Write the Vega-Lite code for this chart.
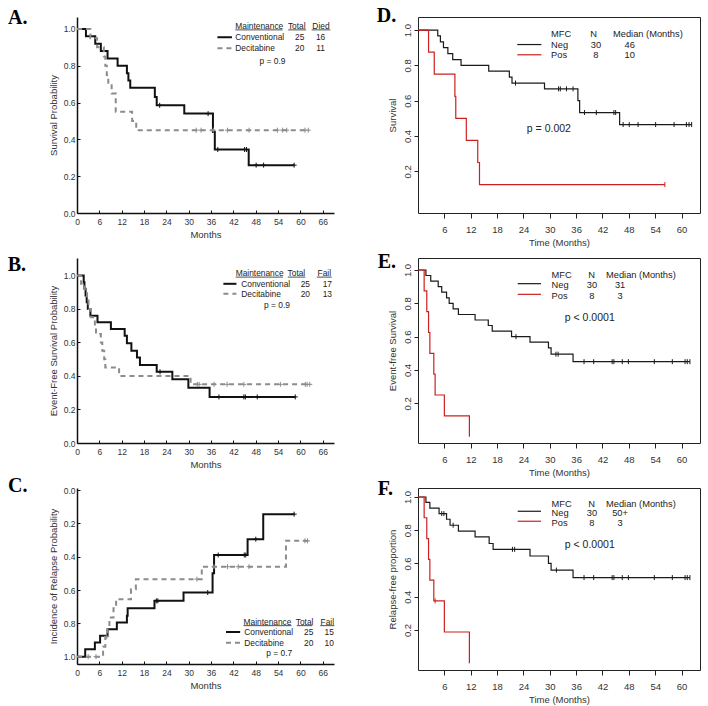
{
  "$schema": "https://vega.github.io/schema/vega-lite/v6.json",
  "background": "white",
  "padding": {"left": 7, "top": 5, "right": 5, "bottom": 5},
  "config": {
    "font": "Liberation Sans",
    "view": {"stroke": null},
    "axis": {"grid": false, "labelFont": "Liberation Sans", "titleFont": "Liberation Sans", "titleFontWeight": "normal", "labelFlush": false, "labelOverlap": false, "labelSeparation": 0},
    "text": {"font": "Liberation Sans", "color": "#222", "baseline": "middle"},
    "title": {"font": "Liberation Serif", "fontSize": 20, "fontWeight": "bold", "color": "black", "anchor": "start", "frame": "group", "baseline": "alphabetic"}
  },
  "datasets": {
    "A_line": [
      {"g":"Conventional","t":0,"s":1},{"g":"Conventional","t":2.4,"s":0.96},{"g":"Conventional","t":4.9,"s":0.92},{"g":"Conventional","t":6.4,"s":0.88},{"g":"Conventional","t":8.2,"s":0.84},{"g":"Conventional","t":10.9,"s":0.8},{"g":"Conventional","t":13.4,"s":0.76},{"g":"Conventional","t":13.8,"s":0.72},{"g":"Conventional","t":14.3,"s":0.68},{"g":"Conventional","t":20.9,"s":0.63},{"g":"Conventional","t":21.4,"s":0.585},{"g":"Conventional","t":28.8,"s":0.54},{"g":"Conventional","t":36.5,"s":0.44},{"g":"Conventional","t":37,"s":0.345},{"g":"Conventional","t":46.1,"s":0.26},{"g":"Conventional","t":58.3,"s":0.26},
      {"g":"Decitabine","t":0,"s":1},{"g":"Decitabine","t":3.6,"s":0.95},{"g":"Decitabine","t":5.4,"s":0.9},{"g":"Decitabine","t":7.2,"s":0.85},{"g":"Decitabine","t":7.6,"s":0.8},{"g":"Decitabine","t":8,"s":0.75},{"g":"Decitabine","t":8.4,"s":0.7},{"g":"Decitabine","t":9.3,"s":0.65},{"g":"Decitabine","t":10.4,"s":0.55},{"g":"Decitabine","t":14.8,"s":0.5},{"g":"Decitabine","t":15.9,"s":0.45},{"g":"Decitabine","t":62.1,"s":0.45}
    ],
    "A_cens": [
      {"g":"Conventional","t":22.2,"s":0.585},{"g":"Conventional","t":35.2,"s":0.54},{"g":"Conventional","t":37.8,"s":0.345},{"g":"Conventional","t":45,"s":0.345},{"g":"Conventional","t":45.5,"s":0.345},{"g":"Conventional","t":48.1,"s":0.26},{"g":"Conventional","t":50.1,"s":0.26},{"g":"Conventional","t":58.3,"s":0.26},
      {"g":"Decitabine","t":32,"s":0.45},{"g":"Decitabine","t":33.3,"s":0.45},{"g":"Decitabine","t":36.6,"s":0.45},{"g":"Decitabine","t":40.4,"s":0.45},{"g":"Decitabine","t":46.2,"s":0.45},{"g":"Decitabine","t":53.8,"s":0.45},{"g":"Decitabine","t":55.2,"s":0.45},{"g":"Decitabine","t":56.3,"s":0.45},{"g":"Decitabine","t":61.2,"s":0.45},{"g":"Decitabine","t":62.1,"s":0.45}
    ],
    "B_line": [
      {"g":"Conventional","t":0,"s":1},{"g":"Conventional","t":1.8,"s":0.96},{"g":"Conventional","t":2,"s":0.92},{"g":"Conventional","t":2.3,"s":0.88},{"g":"Conventional","t":2.6,"s":0.84},{"g":"Conventional","t":2.9,"s":0.8},{"g":"Conventional","t":3.6,"s":0.76},{"g":"Conventional","t":5.5,"s":0.72},{"g":"Conventional","t":9.1,"s":0.68},{"g":"Conventional","t":12.8,"s":0.64},{"g":"Conventional","t":13.4,"s":0.595},{"g":"Conventional","t":14.6,"s":0.55},{"g":"Conventional","t":16.1,"s":0.51},{"g":"Conventional","t":16.9,"s":0.465},{"g":"Conventional","t":21.4,"s":0.425},{"g":"Conventional","t":25.6,"s":0.38},{"g":"Conventional","t":29.9,"s":0.33},{"g":"Conventional","t":35.6,"s":0.275},{"g":"Conventional","t":58.6,"s":0.275},
      {"g":"Decitabine","t":0,"s":1},{"g":"Decitabine","t":1.1,"s":0.95},{"g":"Decitabine","t":2.1,"s":0.9},{"g":"Decitabine","t":2.7,"s":0.85},{"g":"Decitabine","t":3.1,"s":0.8},{"g":"Decitabine","t":3.7,"s":0.75},{"g":"Decitabine","t":4.8,"s":0.7},{"g":"Decitabine","t":5.1,"s":0.65},{"g":"Decitabine","t":6.4,"s":0.6},{"g":"Decitabine","t":6.8,"s":0.55},{"g":"Decitabine","t":7.3,"s":0.5},{"g":"Decitabine","t":7.6,"s":0.45},{"g":"Decitabine","t":11.3,"s":0.4},{"g":"Decitabine","t":30.5,"s":0.35},{"g":"Decitabine","t":62.5,"s":0.35}
    ],
    "B_cens": [
      {"g":"Conventional","t":22.3,"s":0.425},{"g":"Conventional","t":38.1,"s":0.275},{"g":"Conventional","t":44.8,"s":0.275},{"g":"Conventional","t":45.2,"s":0.275},{"g":"Conventional","t":48.4,"s":0.275},{"g":"Conventional","t":58.6,"s":0.275},
      {"g":"Decitabine","t":32.3,"s":0.35},{"g":"Decitabine","t":32.8,"s":0.35},{"g":"Decitabine","t":36.8,"s":0.35},{"g":"Decitabine","t":40.3,"s":0.35},{"g":"Decitabine","t":44.8,"s":0.35},{"g":"Decitabine","t":54.6,"s":0.35},{"g":"Decitabine","t":61.3,"s":0.35},{"g":"Decitabine","t":61.8,"s":0.35},{"g":"Decitabine","t":62.5,"s":0.35}
    ],
    "C_line": [
      {"g":"Conventional","t":0,"s":1},{"g":"Conventional","t":2.2,"s":0.955},{"g":"Conventional","t":4.8,"s":0.915},{"g":"Conventional","t":6.2,"s":0.875},{"g":"Conventional","t":8.2,"s":0.835},{"g":"Conventional","t":10.7,"s":0.795},{"g":"Conventional","t":13.4,"s":0.755},{"g":"Conventional","t":13.6,"s":0.71},{"g":"Conventional","t":20.8,"s":0.665},{"g":"Conventional","t":28.6,"s":0.615},{"g":"Conventional","t":36.4,"s":0.5},{"g":"Conventional","t":36.8,"s":0.39},{"g":"Conventional","t":45.8,"s":0.295},{"g":"Conventional","t":50,"s":0.145},{"g":"Conventional","t":58.3,"s":0.145},
      {"g":"Decitabine","t":0,"s":1},{"g":"Decitabine","t":7,"s":0.94},{"g":"Decitabine","t":7.6,"s":0.88},{"g":"Decitabine","t":8.2,"s":0.82},{"g":"Decitabine","t":8.7,"s":0.765},{"g":"Decitabine","t":9.8,"s":0.71},{"g":"Decitabine","t":10.5,"s":0.655},{"g":"Decitabine","t":14.5,"s":0.595},{"g":"Decitabine","t":15.8,"s":0.535},{"g":"Decitabine","t":33.5,"s":0.46},{"g":"Decitabine","t":56.1,"s":0.305},{"g":"Decitabine","t":62.3,"s":0.305}
    ],
    "C_cens": [
      {"g":"Conventional","t":21.3,"s":0.665},{"g":"Conventional","t":21.7,"s":0.665},{"g":"Conventional","t":35.1,"s":0.615},{"g":"Conventional","t":37.9,"s":0.39},{"g":"Conventional","t":44.9,"s":0.39},{"g":"Conventional","t":45.3,"s":0.39},{"g":"Conventional","t":48,"s":0.295},{"g":"Conventional","t":58.3,"s":0.145},
      {"g":"Decitabine","t":3,"s":1},{"g":"Decitabine","t":5.1,"s":1},{"g":"Decitabine","t":8,"s":0.88},{"g":"Decitabine","t":32.2,"s":0.535},{"g":"Decitabine","t":36.8,"s":0.46},{"g":"Decitabine","t":40.4,"s":0.46},{"g":"Decitabine","t":43.3,"s":0.46},{"g":"Decitabine","t":46.2,"s":0.46},{"g":"Decitabine","t":61.2,"s":0.305},{"g":"Decitabine","t":61.9,"s":0.305}
    ],
    "D_line": [
      {"g":"Neg","t":0,"s":1},{"g":"Neg","t":4.5,"s":0.967},{"g":"Neg","t":5.1,"s":0.933},{"g":"Neg","t":5.8,"s":0.9},{"g":"Neg","t":6.8,"s":0.867},{"g":"Neg","t":7.9,"s":0.833},{"g":"Neg","t":9.8,"s":0.8},{"g":"Neg","t":16.1,"s":0.767},{"g":"Neg","t":20.8,"s":0.733},{"g":"Neg","t":21.4,"s":0.7},{"g":"Neg","t":28.8,"s":0.667},{"g":"Neg","t":36.4,"s":0.6},{"g":"Neg","t":36.8,"s":0.533},{"g":"Neg","t":45.9,"s":0.465},{"g":"Neg","t":62.3,"s":0.465},
      {"g":"Pos","t":0,"s":1},{"g":"Pos","t":2.4,"s":0.875},{"g":"Pos","t":3.7,"s":0.75},{"g":"Pos","t":8.4,"s":0.625},{"g":"Pos","t":8.6,"s":0.5},{"g":"Pos","t":11,"s":0.375},{"g":"Pos","t":13.6,"s":0.25},{"g":"Pos","t":14,"s":0.125},{"g":"Pos","t":56.2,"s":0.125}
    ],
    "D_cens": [
      {"g":"Neg","t":22.2,"s":0.7},{"g":"Neg","t":32,"s":0.667},{"g":"Neg","t":32.4,"s":0.667},{"g":"Neg","t":33.8,"s":0.667},{"g":"Neg","t":35.3,"s":0.667},{"g":"Neg","t":37.9,"s":0.533},{"g":"Neg","t":40.6,"s":0.533},{"g":"Neg","t":44.6,"s":0.533},{"g":"Neg","t":45,"s":0.533},{"g":"Neg","t":46.7,"s":0.465},{"g":"Neg","t":48.1,"s":0.465},{"g":"Neg","t":50.1,"s":0.465},{"g":"Neg","t":54.1,"s":0.465},{"g":"Neg","t":58.3,"s":0.465},{"g":"Neg","t":61.1,"s":0.465},{"g":"Neg","t":61.7,"s":0.465},{"g":"Neg","t":62.3,"s":0.465},
      {"g":"Pos","t":56.2,"s":0.125}
    ],
    "E_line": [
      {"g":"Neg","t":0,"s":1},{"g":"Neg","t":1.8,"s":0.967},{"g":"Neg","t":2.9,"s":0.933},{"g":"Neg","t":4.6,"s":0.9},{"g":"Neg","t":5.4,"s":0.867},{"g":"Neg","t":6.5,"s":0.833},{"g":"Neg","t":7.1,"s":0.8},{"g":"Neg","t":8,"s":0.767},{"g":"Neg","t":9.2,"s":0.733},{"g":"Neg","t":13,"s":0.7},{"g":"Neg","t":16,"s":0.667},{"g":"Neg","t":16.9,"s":0.633},{"g":"Neg","t":21.3,"s":0.6},{"g":"Neg","t":25.5,"s":0.567},{"g":"Neg","t":29.7,"s":0.533},{"g":"Neg","t":30.3,"s":0.495},{"g":"Neg","t":35.3,"s":0.45},{"g":"Neg","t":61.9,"s":0.45},
      {"g":"Pos","t":0,"s":1},{"g":"Pos","t":1.4,"s":0.875},{"g":"Pos","t":2,"s":0.75},{"g":"Pos","t":2.4,"s":0.625},{"g":"Pos","t":2.7,"s":0.5},{"g":"Pos","t":3.6,"s":0.375},{"g":"Pos","t":3.9,"s":0.25},{"g":"Pos","t":6,"s":0.125},{"g":"Pos","t":11.7,"s":0}
    ],
    "E_cens": [
      {"g":"Neg","t":22.3,"s":0.6},{"g":"Neg","t":31.4,"s":0.495},{"g":"Neg","t":31.9,"s":0.495},{"g":"Neg","t":37.8,"s":0.45},{"g":"Neg","t":40,"s":0.45},{"g":"Neg","t":44.2,"s":0.45},{"g":"Neg","t":44.6,"s":0.45},{"g":"Neg","t":46.5,"s":0.45},{"g":"Neg","t":47.9,"s":0.45},{"g":"Neg","t":53.8,"s":0.45},{"g":"Neg","t":57.9,"s":0.45},{"g":"Neg","t":60.8,"s":0.45},{"g":"Neg","t":61.3,"s":0.45},{"g":"Neg","t":61.9,"s":0.45}
    ],
    "F_line": [
      {"g":"Neg","t":0,"s":1},{"g":"Neg","t":1.8,"s":0.967},{"g":"Neg","t":2.7,"s":0.933},{"g":"Neg","t":4.8,"s":0.9},{"g":"Neg","t":6.5,"s":0.866},{"g":"Neg","t":7.3,"s":0.83},{"g":"Neg","t":9.2,"s":0.795},{"g":"Neg","t":13,"s":0.76},{"g":"Neg","t":16.2,"s":0.72},{"g":"Neg","t":17.1,"s":0.685},{"g":"Neg","t":25.5,"s":0.645},{"g":"Neg","t":29.7,"s":0.6},{"g":"Neg","t":30.3,"s":0.56},{"g":"Neg","t":35.3,"s":0.515},{"g":"Neg","t":61.9,"s":0.515},
      {"g":"Pos","t":0,"s":1},{"g":"Pos","t":1.4,"s":0.875},{"g":"Pos","t":2,"s":0.75},{"g":"Pos","t":2.4,"s":0.625},{"g":"Pos","t":2.7,"s":0.5},{"g":"Pos","t":3.6,"s":0.375},{"g":"Pos","t":6,"s":0.1875},{"g":"Pos","t":11.7,"s":0}
    ],
    "F_cens": [
      {"g":"Neg","t":5.4,"s":0.9},{"g":"Neg","t":5.9,"s":0.9},{"g":"Neg","t":8,"s":0.83},{"g":"Neg","t":21.5,"s":0.685},{"g":"Neg","t":22,"s":0.685},{"g":"Neg","t":31.5,"s":0.56},{"g":"Neg","t":37.8,"s":0.515},{"g":"Neg","t":40,"s":0.515},{"g":"Neg","t":44.2,"s":0.515},{"g":"Neg","t":44.6,"s":0.515},{"g":"Neg","t":46.5,"s":0.515},{"g":"Neg","t":47.9,"s":0.515},{"g":"Neg","t":53.8,"s":0.515},{"g":"Neg","t":57.9,"s":0.515},{"g":"Neg","t":60.8,"s":0.515},{"g":"Neg","t":61.3,"s":0.515},{"g":"Neg","t":61.9,"s":0.515},
      {"g":"Pos","t":3.9,"s":0.375}
    ]
  },
  "columns": 2,
  "align": "each",
  "bounds": "flush",
  "spacing": {"row": 45, "column": 84},
  "resolve": {"scale": {"color": "independent", "strokeDash": "independent"}},
  "concat": [
    {
      "width": 257, "height": 196,
      "title": {"text": "A.", "dx": -69, "offset": -11},
      "layer": [
        {"data": {"name": "A_line"}, "mark": {"type": "line", "interpolate": "step-after", "strokeWidth": 2},
         "encoding": {
           "x": {"field": "t", "type": "quantitative", "scale": {"domain": [0, 69], "nice": false, "zero": false},
                 "axis": {"title": "Months", "values": [0,6,12,18,24,30,36,42,48,54,60,66], "tickCount": 40, "format": "d", "labelOverlap": false, "labelFontSize": 8.5, "titleFontSize": 9.5, "domainColor": "#111", "domainWidth": 1.5, "tickColor": "#111", "tickSize": -3, "labelPadding": 7, "titlePadding": 4, "labelColor": "#333", "titleColor": "#333"}},
           "y": {"field": "s", "type": "quantitative", "scale": {"domain": [0, 1.065], "nice": false, "zero": false},
                 "axis": {"title": "Survival Probability", "values": [0,0.2,0.4,0.6,0.8,1], "tickCount": 40, "format": ".1f", "labelOverlap": false, "labelFontSize": 8.5, "titleFontSize": 9.5, "domainColor": "#111", "domainWidth": 1.5, "tickColor": "#111", "tickSize": -3, "labelPadding": 5, "titlePadding": 5, "labelColor": "#333", "titleColor": "#333"}},
           "color": {"field": "g", "type": "nominal", "scale": {"domain": ["Conventional", "Decitabine"], "range": ["#111111", "#8c8c8c"]}, "legend": null},
           "strokeDash": {"field": "g", "type": "nominal", "scale": {"domain": ["Conventional", "Decitabine"], "range": [[1, 0], [5, 4]]}, "legend": null}
         }},
        {"data": {"name": "A_cens"}, "mark": {"type": "point", "shape": "M-1,0L1,0M0,-1L0,1", "size": 25, "strokeWidth": 1, "filled": false, "opacity": 1},
         "encoding": {"x": {"field": "t", "type": "quantitative"}, "y": {"field": "s", "type": "quantitative"},
           "color": {"field": "g", "type": "nominal", "legend": null}}},
        {"data": {"values": [{}]}, "layer": [
          {"mark": {"type": "text", "align": "left", "fontSize": 8.4}, "encoding": {"x": {"datum": 42.5}, "y": {"datum": 1.015}, "text": {"value": "Maintenance"}}},
          {"mark": {"type": "text", "align": "center", "fontSize": 8.4}, "encoding": {"x": {"datum": 59.0}, "y": {"datum": 1.015}, "text": {"value": "Total"}}},
          {"mark": {"type": "text", "align": "center", "fontSize": 8.4}, "encoding": {"x": {"datum": 65.5}, "y": {"datum": 1.015}, "text": {"value": "Died"}}},
          {"mark": {"type": "rule", "color": "#222", "strokeWidth": 0.8}, "encoding": {"x": {"datum": 42.5}, "x2": {"datum": 55.2}, "y": {"datum": 0.995}}},
          {"mark": {"type": "rule", "color": "#222", "strokeWidth": 0.8}, "encoding": {"x": {"datum": 56.7}, "x2": {"datum": 61.5}, "y": {"datum": 0.995}}},
          {"mark": {"type": "rule", "color": "#222", "strokeWidth": 0.8}, "encoding": {"x": {"datum": 63.0}, "x2": {"datum": 68.0}, "y": {"datum": 0.995}}},
          {"mark": {"type": "text", "align": "left", "fontSize": 8.4}, "encoding": {"x": {"datum": 42.5}, "y": {"datum": 0.955}, "text": {"value": "Conventional"}}},
          {"mark": {"type": "text", "align": "left", "fontSize": 8.4}, "encoding": {"x": {"datum": 42.5}, "y": {"datum": 0.895}, "text": {"value": "Decitabine"}}},
          {"mark": {"type": "text", "align": "center", "fontSize": 8.4}, "encoding": {"x": {"datum": 59.8}, "y": {"datum": 0.955}, "text": {"value": "25"}}},
          {"mark": {"type": "text", "align": "center", "fontSize": 8.4}, "encoding": {"x": {"datum": 59.8}, "y": {"datum": 0.895}, "text": {"value": "20"}}},
          {"mark": {"type": "text", "align": "center", "fontSize": 8.4}, "encoding": {"x": {"datum": 65.4}, "y": {"datum": 0.955}, "text": {"value": "16"}}},
          {"mark": {"type": "text", "align": "center", "fontSize": 8.4}, "encoding": {"x": {"datum": 65.4}, "y": {"datum": 0.895}, "text": {"value": "11"}}},
          {"mark": {"type": "rule", "color": "#111", "strokeWidth": 2}, "encoding": {"x": {"datum": 37.7}, "x2": {"datum": 41.6}, "y": {"datum": 0.955}}},
          {"mark": {"type": "rule", "color": "#8c8c8c", "strokeWidth": 2, "strokeDash": [5, 4]}, "encoding": {"x": {"datum": 37.7}, "x2": {"datum": 41.6}, "y": {"datum": 0.895}}},
          {"mark": {"type": "text", "align": "center", "fontSize": 8.4}, "encoding": {"x": {"datum": 52.5}, "y": {"datum": 0.828}, "text": {"value": "p = 0.9"}}}
        ]}
      ]
    },
    {
      "width": 282, "height": 196,
      "view": {"stroke": "#222", "strokeWidth": 1},
      "title": {"text": "D.", "dx": -41.3, "offset": -8.7},
      "layer": [
        {"data": {"name": "D_line"}, "mark": {"type": "line", "interpolate": "step-after", "strokeWidth": 1.2},
         "encoding": {
           "x": {"field": "t", "type": "quantitative", "scale": {"domain": [0, 64.2], "nice": false, "zero": false},
                 "axis": {"title": "Time (Months)", "values": [6,12,18,24,30,36,42,48,54,60], "tickCount": 40, "format": "d", "labelOverlap": false, "labelFontSize": 9.5, "titleFontSize": 9.5, "domain": false, "tickColor": "#222", "tickSize": 5, "labelPadding": 6, "titlePadding": 4, "labelColor": "#333", "titleColor": "#333"}},
           "y": {"field": "s", "type": "quantitative", "scale": {"domain": [-0.036, 1.074], "nice": false, "zero": false},
                 "axis": {"title": "Survival", "values": [0.2,0.4,0.6,0.8,1], "tickCount": 40, "format": ".1f", "labelOverlap": false, "labelAngle": -90, "labelAlign": "center", "labelBaseline": "bottom", "labelFontSize": 9.5, "titleFontSize": 9.5, "domain": false, "tickColor": "#222", "tickSize": 4, "labelPadding": 2, "titlePadding": 5, "labelColor": "#333", "titleColor": "#333"}},
           "color": {"field": "g", "type": "nominal", "scale": {"domain": ["Neg", "Pos"], "range": ["#1a1a1a", "#cc2020"]}, "legend": null}
         }},
        {"data": {"name": "D_cens"}, "mark": {"type": "point", "shape": "M0,-1L0,1", "size": 25, "strokeWidth": 1, "filled": false, "opacity": 1},
         "encoding": {"x": {"field": "t", "type": "quantitative"}, "y": {"field": "s", "type": "quantitative"},
           "color": {"field": "g", "type": "nominal", "legend": null}}},
        {"data": {"values": [{}]}, "layer": [
          {"mark": {"type": "text", "align": "left", "fontSize": 9.3}, "encoding": {"x": {"datum": 30.3}, "y": {"datum": 0.976}, "text": {"value": "MFC"}}},
          {"mark": {"type": "text", "align": "center", "fontSize": 9.3}, "encoding": {"x": {"datum": 40.0}, "y": {"datum": 0.976}, "text": {"value": "N"}}},
          {"mark": {"type": "text", "align": "left", "fontSize": 9.3}, "encoding": {"x": {"datum": 44.4}, "y": {"datum": 0.976}, "text": {"value": "Median (Months)"}}},
          {"mark": {"type": "text", "align": "left", "fontSize": 9.3}, "encoding": {"x": {"datum": 30.3}, "y": {"datum": 0.913}, "text": {"value": "Neg"}}},
          {"mark": {"type": "text", "align": "left", "fontSize": 9.3}, "encoding": {"x": {"datum": 30.3}, "y": {"datum": 0.857}, "text": {"value": "Pos"}}},
          {"mark": {"type": "text", "align": "center", "fontSize": 9.3}, "encoding": {"x": {"datum": 40.5}, "y": {"datum": 0.913}, "text": {"value": "30"}}},
          {"mark": {"type": "text", "align": "center", "fontSize": 9.3}, "encoding": {"x": {"datum": 40.5}, "y": {"datum": 0.857}, "text": {"value": "8"}}},
          {"mark": {"type": "text", "align": "center", "fontSize": 9.3}, "encoding": {"x": {"datum": 48.2}, "y": {"datum": 0.913}, "text": {"value": "46"}}},
          {"mark": {"type": "text", "align": "center", "fontSize": 9.3}, "encoding": {"x": {"datum": 48.2}, "y": {"datum": 0.857}, "text": {"value": "10"}}},
          {"mark": {"type": "rule", "color": "#1a1a1a", "strokeWidth": 1.2}, "encoding": {"x": {"datum": 22.6}, "x2": {"datum": 28.1}, "y": {"datum": 0.918}}},
          {"mark": {"type": "rule", "color": "#cc2020", "strokeWidth": 1.2}, "encoding": {"x": {"datum": 22.6}, "x2": {"datum": 28.1}, "y": {"datum": 0.86}}},
          {"mark": {"type": "text", "align": "center", "fontSize": 10.5}, "encoding": {"x": {"datum": 29.8}, "y": {"datum": 0.437}, "text": {"value": "p = 0.002"}}}
        ]}
      ]
    },
    {
      "width": 257, "height": 185,
      "title": {"text": "B.", "dx": -69.3, "offset": -17},
      "layer": [
        {"data": {"name": "B_line"}, "mark": {"type": "line", "interpolate": "step-after", "strokeWidth": 2},
         "encoding": {
           "x": {"field": "t", "type": "quantitative", "scale": {"domain": [0, 69], "nice": false, "zero": false},
                 "axis": {"title": "Months", "values": [0,6,12,18,24,30,36,42,48,54,60,66], "tickCount": 40, "format": "d", "labelOverlap": false, "labelFontSize": 8.5, "titleFontSize": 9.5, "domainColor": "#111", "domainWidth": 1.5, "tickColor": "#111", "tickSize": -3, "labelPadding": 7, "titlePadding": 4, "labelColor": "#333", "titleColor": "#333"}},
           "y": {"field": "s", "type": "quantitative", "scale": {"domain": [0, 1.104], "nice": false, "zero": false},
                 "axis": {"title": "Event-Free Survival Probability", "values": [0,0.2,0.4,0.6,0.8,1], "tickCount": 40, "format": ".1f", "labelOverlap": false, "labelFontSize": 8.5, "titleFontSize": 9.5, "domainColor": "#111", "domainWidth": 1.5, "tickColor": "#111", "tickSize": -3, "labelPadding": 5, "titlePadding": 5, "labelColor": "#333", "titleColor": "#333"}},
           "color": {"field": "g", "type": "nominal", "scale": {"domain": ["Conventional", "Decitabine"], "range": ["#111111", "#8c8c8c"]}, "legend": null},
           "strokeDash": {"field": "g", "type": "nominal", "scale": {"domain": ["Conventional", "Decitabine"], "range": [[1, 0], [5, 4]]}, "legend": null}
         }},
        {"data": {"name": "B_cens"}, "mark": {"type": "point", "shape": "M-1,0L1,0M0,-1L0,1", "size": 25, "strokeWidth": 1, "filled": false, "opacity": 1},
         "encoding": {"x": {"field": "t", "type": "quantitative"}, "y": {"field": "s", "type": "quantitative"},
           "color": {"field": "g", "type": "nominal", "legend": null}}},
        {"data": {"values": [{}]}, "layer": [
          {"mark": {"type": "text", "align": "left", "fontSize": 8.4}, "encoding": {"x": {"datum": 42.6}, "y": {"datum": 1.012}, "text": {"value": "Maintenance"}}},
          {"mark": {"type": "text", "align": "center", "fontSize": 8.4}, "encoding": {"x": {"datum": 58.9}, "y": {"datum": 1.012}, "text": {"value": "Total"}}},
          {"mark": {"type": "text", "align": "center", "fontSize": 8.4}, "encoding": {"x": {"datum": 66.4}, "y": {"datum": 1.012}, "text": {"value": "Fail"}}},
          {"mark": {"type": "rule", "color": "#222", "strokeWidth": 0.8}, "encoding": {"x": {"datum": 42.6}, "x2": {"datum": 55.3}, "y": {"datum": 0.99}}},
          {"mark": {"type": "rule", "color": "#222", "strokeWidth": 0.8}, "encoding": {"x": {"datum": 56.6}, "x2": {"datum": 61.3}, "y": {"datum": 0.99}}},
          {"mark": {"type": "rule", "color": "#222", "strokeWidth": 0.8}, "encoding": {"x": {"datum": 64.4}, "x2": {"datum": 68.4}, "y": {"datum": 0.99}}},
          {"mark": {"type": "text", "align": "left", "fontSize": 8.4}, "encoding": {"x": {"datum": 44.1}, "y": {"datum": 0.95}, "text": {"value": "Conventional"}}},
          {"mark": {"type": "text", "align": "left", "fontSize": 8.4}, "encoding": {"x": {"datum": 44.1}, "y": {"datum": 0.89}, "text": {"value": "Decitabine"}}},
          {"mark": {"type": "text", "align": "center", "fontSize": 8.4}, "encoding": {"x": {"datum": 61.3}, "y": {"datum": 0.95}, "text": {"value": "25"}}},
          {"mark": {"type": "text", "align": "center", "fontSize": 8.4}, "encoding": {"x": {"datum": 61.3}, "y": {"datum": 0.89}, "text": {"value": "20"}}},
          {"mark": {"type": "text", "align": "center", "fontSize": 8.4}, "encoding": {"x": {"datum": 67.2}, "y": {"datum": 0.95}, "text": {"value": "17"}}},
          {"mark": {"type": "text", "align": "center", "fontSize": 8.4}, "encoding": {"x": {"datum": 67.2}, "y": {"datum": 0.89}, "text": {"value": "13"}}},
          {"mark": {"type": "rule", "color": "#111", "strokeWidth": 2}, "encoding": {"x": {"datum": 39.3}, "x2": {"datum": 42.8}, "y": {"datum": 0.95}}},
          {"mark": {"type": "rule", "color": "#8c8c8c", "strokeWidth": 2, "strokeDash": [5, 4]}, "encoding": {"x": {"datum": 39.3}, "x2": {"datum": 42.8}, "y": {"datum": 0.89}}},
          {"mark": {"type": "text", "align": "center", "fontSize": 8.4}, "encoding": {"x": {"datum": 53.7}, "y": {"datum": 0.823}, "text": {"value": "p = 0.9"}}}
        ]}
      ]
    },
    {
      "width": 282, "height": 185,
      "view": {"stroke": "#222", "strokeWidth": 1},
      "title": {"text": "E.", "dx": -40.3, "offset": -13.7},
      "layer": [
        {"data": {"name": "E_line"}, "mark": {"type": "line", "interpolate": "step-after", "strokeWidth": 1.2},
         "encoding": {
           "x": {"field": "t", "type": "quantitative", "scale": {"domain": [0, 64.2], "nice": false, "zero": false},
                 "axis": {"title": "Time (Months)", "values": [6,12,18,24,30,36,42,48,54,60], "tickCount": 40, "format": "d", "labelOverlap": false, "labelFontSize": 9.5, "titleFontSize": 9.5, "domain": false, "tickColor": "#222", "tickSize": 5, "labelPadding": 6, "titlePadding": 4, "labelColor": "#333", "titleColor": "#333"}},
           "y": {"field": "s", "type": "quantitative", "scale": {"domain": [-0.038, 1.072], "nice": false, "zero": false},
                 "axis": {"title": "Event-free Survival", "values": [0.2,0.4,0.6,0.8,1], "tickCount": 40, "format": ".1f", "labelOverlap": false, "labelAngle": -90, "labelAlign": "center", "labelBaseline": "bottom", "labelFontSize": 9.5, "titleFontSize": 9.5, "domain": false, "tickColor": "#222", "tickSize": 4, "labelPadding": 2, "titlePadding": 5, "labelColor": "#333", "titleColor": "#333"}},
           "color": {"field": "g", "type": "nominal", "scale": {"domain": ["Neg", "Pos"], "range": ["#1a1a1a", "#cc2020"]}, "legend": null}
         }},
        {"data": {"name": "E_cens"}, "mark": {"type": "point", "shape": "M0,-1L0,1", "size": 25, "strokeWidth": 1, "filled": false, "opacity": 1},
         "encoding": {"x": {"field": "t", "type": "quantitative"}, "y": {"field": "s", "type": "quantitative"},
           "color": {"field": "g", "type": "nominal", "legend": null}}},
        {"data": {"values": [{}]}, "layer": [
          {"mark": {"type": "text", "align": "left", "fontSize": 9.3}, "encoding": {"x": {"datum": 30.4}, "y": {"datum": 0.968}, "text": {"value": "MFC"}}},
          {"mark": {"type": "text", "align": "center", "fontSize": 9.3}, "encoding": {"x": {"datum": 39.5}, "y": {"datum": 0.968}, "text": {"value": "N"}}},
          {"mark": {"type": "text", "align": "left", "fontSize": 9.3}, "encoding": {"x": {"datum": 42.8}, "y": {"datum": 0.968}, "text": {"value": "Median (Months)"}}},
          {"mark": {"type": "text", "align": "left", "fontSize": 9.3}, "encoding": {"x": {"datum": 30.4}, "y": {"datum": 0.908}, "text": {"value": "Neg"}}},
          {"mark": {"type": "text", "align": "left", "fontSize": 9.3}, "encoding": {"x": {"datum": 30.4}, "y": {"datum": 0.844}, "text": {"value": "Pos"}}},
          {"mark": {"type": "text", "align": "center", "fontSize": 9.3}, "encoding": {"x": {"datum": 39.6}, "y": {"datum": 0.908}, "text": {"value": "30"}}},
          {"mark": {"type": "text", "align": "center", "fontSize": 9.3}, "encoding": {"x": {"datum": 39.6}, "y": {"datum": 0.844}, "text": {"value": "8"}}},
          {"mark": {"type": "text", "align": "center", "fontSize": 9.3}, "encoding": {"x": {"datum": 46.0}, "y": {"datum": 0.908}, "text": {"value": "31"}}},
          {"mark": {"type": "text", "align": "center", "fontSize": 9.3}, "encoding": {"x": {"datum": 46.0}, "y": {"datum": 0.844}, "text": {"value": "3"}}},
          {"mark": {"type": "rule", "color": "#1a1a1a", "strokeWidth": 1.2}, "encoding": {"x": {"datum": 22.7}, "x2": {"datum": 28.0}, "y": {"datum": 0.918}}},
          {"mark": {"type": "rule", "color": "#cc2020", "strokeWidth": 1.2}, "encoding": {"x": {"datum": 22.7}, "x2": {"datum": 28.0}, "y": {"datum": 0.854}}},
          {"mark": {"type": "text", "align": "center", "fontSize": 10.5}, "encoding": {"x": {"datum": 39.1}, "y": {"datum": 0.71}, "text": {"value": "p < 0.0001"}}}
        ]}
      ]
    },
    {
      "width": 257, "height": 176,
      "title": {"text": "C.", "dx": -69, "offset": -10.3},
      "layer": [
        {"data": {"name": "C_line"}, "mark": {"type": "line", "interpolate": "step-after", "strokeWidth": 2},
         "encoding": {
           "x": {"field": "t", "type": "quantitative", "scale": {"domain": [0, 69], "nice": false, "zero": false},
                 "axis": {"title": "Months", "values": [0,6,12,18,24,30,36,42,48,54,60,66], "tickCount": 40, "format": "d", "labelOverlap": false, "labelFontSize": 8.5, "titleFontSize": 9.5, "domainColor": "#111", "domainWidth": 1.5, "tickColor": "#111", "tickSize": -3, "labelPadding": 7, "titlePadding": 4, "labelColor": "#333", "titleColor": "#333"}},
           "y": {"field": "s", "type": "quantitative", "scale": {"domain": [-0.012, 1.044], "reverse": true, "nice": false, "zero": false},
                 "axis": {"title": "Incidence of Relapse Probability", "values": [0,0.2,0.4,0.6,0.8,1], "tickCount": 40, "format": ".1f", "labelOverlap": false, "labelFontSize": 8.5, "titleFontSize": 9.5, "domainColor": "#111", "domainWidth": 1.5, "tickColor": "#111", "tickSize": -3, "labelPadding": 5, "titlePadding": 5, "labelColor": "#333", "titleColor": "#333"}},
           "color": {"field": "g", "type": "nominal", "scale": {"domain": ["Conventional", "Decitabine"], "range": ["#111111", "#8c8c8c"]}, "legend": null},
           "strokeDash": {"field": "g", "type": "nominal", "scale": {"domain": ["Conventional", "Decitabine"], "range": [[1, 0], [5, 4]]}, "legend": null}
         }},
        {"data": {"name": "C_cens"}, "mark": {"type": "point", "shape": "M-1,0L1,0M0,-1L0,1", "size": 25, "strokeWidth": 1, "filled": false, "opacity": 1},
         "encoding": {"x": {"field": "t", "type": "quantitative"}, "y": {"field": "s", "type": "quantitative"},
           "color": {"field": "g", "type": "nominal", "legend": null}}},
        {"data": {"values": [{}]}, "layer": [
          {"mark": {"type": "text", "align": "left", "fontSize": 8.4}, "encoding": {"x": {"datum": 44.7}, "y": {"datum": 0.792}, "text": {"value": "Maintenance"}}},
          {"mark": {"type": "text", "align": "center", "fontSize": 8.4}, "encoding": {"x": {"datum": 61.1}, "y": {"datum": 0.792}, "text": {"value": "Total"}}},
          {"mark": {"type": "text", "align": "center", "fontSize": 8.4}, "encoding": {"x": {"datum": 67.2}, "y": {"datum": 0.792}, "text": {"value": "Fail"}}},
          {"mark": {"type": "rule", "color": "#222", "strokeWidth": 0.8}, "encoding": {"x": {"datum": 44.7}, "x2": {"datum": 57.6}, "y": {"datum": 0.814}}},
          {"mark": {"type": "rule", "color": "#222", "strokeWidth": 0.8}, "encoding": {"x": {"datum": 59.0}, "x2": {"datum": 63.2}, "y": {"datum": 0.814}}},
          {"mark": {"type": "rule", "color": "#222", "strokeWidth": 0.8}, "encoding": {"x": {"datum": 65.3}, "x2": {"datum": 69.1}, "y": {"datum": 0.814}}},
          {"mark": {"type": "text", "align": "left", "fontSize": 8.4}, "encoding": {"x": {"datum": 44.9}, "y": {"datum": 0.852}, "text": {"value": "Conventional"}}},
          {"mark": {"type": "text", "align": "left", "fontSize": 8.4}, "encoding": {"x": {"datum": 44.9}, "y": {"datum": 0.916}, "text": {"value": "Decitabine"}}},
          {"mark": {"type": "text", "align": "center", "fontSize": 8.4}, "encoding": {"x": {"datum": 62.2}, "y": {"datum": 0.852}, "text": {"value": "25"}}},
          {"mark": {"type": "text", "align": "center", "fontSize": 8.4}, "encoding": {"x": {"datum": 62.2}, "y": {"datum": 0.916}, "text": {"value": "20"}}},
          {"mark": {"type": "text", "align": "center", "fontSize": 8.4}, "encoding": {"x": {"datum": 67.7}, "y": {"datum": 0.852}, "text": {"value": "15"}}},
          {"mark": {"type": "text", "align": "center", "fontSize": 8.4}, "encoding": {"x": {"datum": 67.7}, "y": {"datum": 0.916}, "text": {"value": "10"}}},
          {"mark": {"type": "rule", "color": "#111", "strokeWidth": 2}, "encoding": {"x": {"datum": 40.0}, "x2": {"datum": 43.8}, "y": {"datum": 0.852}}},
          {"mark": {"type": "rule", "color": "#8c8c8c", "strokeWidth": 2, "strokeDash": [5, 4]}, "encoding": {"x": {"datum": 40.0}, "x2": {"datum": 43.8}, "y": {"datum": 0.916}}},
          {"mark": {"type": "text", "align": "center", "fontSize": 8.4}, "encoding": {"x": {"datum": 54.3}, "y": {"datum": 0.976}, "text": {"value": "p = 0.7"}}}
        ]}
      ]
    },
    {
      "width": 282, "height": 182,
      "view": {"stroke": "#222", "strokeWidth": 1},
      "title": {"text": "F.", "dx": -40.3, "offset": -11},
      "layer": [
        {"data": {"name": "F_line"}, "mark": {"type": "line", "interpolate": "step-after", "strokeWidth": 1.2},
         "encoding": {
           "x": {"field": "t", "type": "quantitative", "scale": {"domain": [0, 64.2], "nice": false, "zero": false},
                 "axis": {"title": "Time (Months)", "values": [6,12,18,24,30,36,42,48,54,60], "tickCount": 40, "format": "d", "labelOverlap": false, "labelFontSize": 9.5, "titleFontSize": 9.5, "domain": false, "tickColor": "#222", "tickSize": 5, "labelPadding": 6, "titlePadding": 4, "labelColor": "#333", "titleColor": "#333"}},
           "y": {"field": "s", "type": "quantitative", "scale": {"domain": [-0.041, 1.054], "nice": false, "zero": false},
                 "axis": {"title": "Relapse-free proportion", "values": [0.2,0.4,0.6,0.8,1], "tickCount": 40, "format": ".1f", "labelOverlap": false, "labelAngle": -90, "labelAlign": "center", "labelBaseline": "bottom", "labelFontSize": 9.5, "titleFontSize": 9.5, "domain": false, "tickColor": "#222", "tickSize": 4, "labelPadding": 2, "titlePadding": 5, "labelColor": "#333", "titleColor": "#333"}},
           "color": {"field": "g", "type": "nominal", "scale": {"domain": ["Neg", "Pos"], "range": ["#1a1a1a", "#cc2020"]}, "legend": null}
         }},
        {"data": {"name": "F_cens"}, "mark": {"type": "point", "shape": "M0,-1L0,1", "size": 25, "strokeWidth": 1, "filled": false, "opacity": 1},
         "encoding": {"x": {"field": "t", "type": "quantitative"}, "y": {"field": "s", "type": "quantitative"},
           "color": {"field": "g", "type": "nominal", "legend": null}}},
        {"data": {"values": [{}]}, "layer": [
          {"mark": {"type": "text", "align": "left", "fontSize": 9.3}, "encoding": {"x": {"datum": 30.4}, "y": {"datum": 0.96}, "text": {"value": "MFC"}}},
          {"mark": {"type": "text", "align": "center", "fontSize": 9.3}, "encoding": {"x": {"datum": 39.5}, "y": {"datum": 0.96}, "text": {"value": "N"}}},
          {"mark": {"type": "text", "align": "left", "fontSize": 9.3}, "encoding": {"x": {"datum": 42.8}, "y": {"datum": 0.96}, "text": {"value": "Median (Months)"}}},
          {"mark": {"type": "text", "align": "left", "fontSize": 9.3}, "encoding": {"x": {"datum": 30.4}, "y": {"datum": 0.904}, "text": {"value": "Neg"}}},
          {"mark": {"type": "text", "align": "left", "fontSize": 9.3}, "encoding": {"x": {"datum": 30.4}, "y": {"datum": 0.844}, "text": {"value": "Pos"}}},
          {"mark": {"type": "text", "align": "center", "fontSize": 9.3}, "encoding": {"x": {"datum": 39.6}, "y": {"datum": 0.904}, "text": {"value": "30"}}},
          {"mark": {"type": "text", "align": "center", "fontSize": 9.3}, "encoding": {"x": {"datum": 39.6}, "y": {"datum": 0.844}, "text": {"value": "8"}}},
          {"mark": {"type": "text", "align": "center", "fontSize": 9.3}, "encoding": {"x": {"datum": 46.0}, "y": {"datum": 0.904}, "text": {"value": "50+"}}},
          {"mark": {"type": "text", "align": "center", "fontSize": 9.3}, "encoding": {"x": {"datum": 46.0}, "y": {"datum": 0.844}, "text": {"value": "3"}}},
          {"mark": {"type": "rule", "color": "#1a1a1a", "strokeWidth": 1.2}, "encoding": {"x": {"datum": 22.7}, "x2": {"datum": 28.0}, "y": {"datum": 0.914}}},
          {"mark": {"type": "rule", "color": "#cc2020", "strokeWidth": 1.2}, "encoding": {"x": {"datum": 22.7}, "x2": {"datum": 28.0}, "y": {"datum": 0.854}}},
          {"mark": {"type": "text", "align": "center", "fontSize": 10.5}, "encoding": {"x": {"datum": 39.1}, "y": {"datum": 0.71}, "text": {"value": "p < 0.0001"}}}
        ]}
      ]
    }
  ]
}
